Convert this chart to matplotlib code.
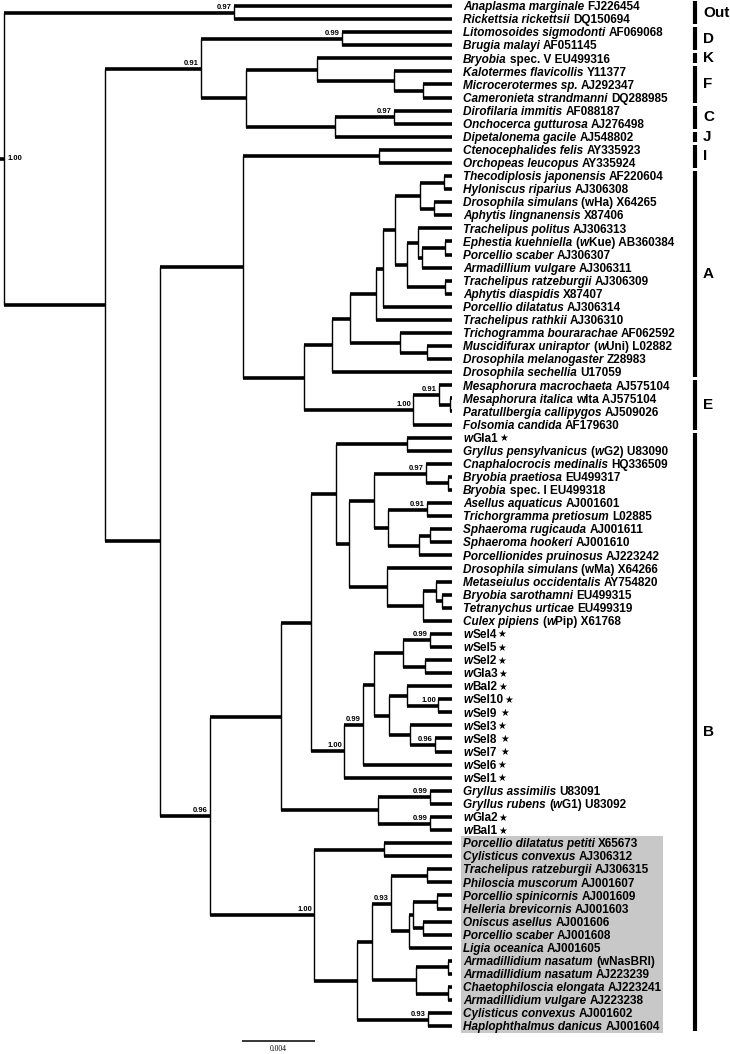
import re
import matplotlib.pyplot as plt
from matplotlib.patches import Rectangle
from matplotlib.transforms import offset_copy

# leaf labels, top to bottom (*...* = italic, ★ = new sequence)
labels = [
    "*Anaplasma marginale* FJ226454",
    "*Rickettsia rickettsii* DQ150694",
    "*Litomosoides sigmodonti* AF069068",
    "*Brugia malayi* AF051145",
    "*Bryobia* spec. V EU499316",
    "*Kalotermes flavicollis* Y11377",
    "*Microcerotermes sp.* AJ292347",
    "*Cameronieta strandmanni* DQ288985",
    "*Dirofilaria immitis* AF088187",
    "*Onchocerca gutturosa* AJ276498",
    "*Dipetalonema gacile* AJ548802",
    "*Ctenocephalides felis* AY335923",
    "*Orchopeas leucopus* AY335924",
    "*Thecodiplosis japonensis* AF220604",
    "*Hyloniscus riparius* AJ306308",
    "*Drosophila simulans* (wHa) X64265",
    "*Aphytis lingnanensis* X87406",
    "*Trachelipus politus* AJ306313",
    "*Ephestia kuehniella* (*w*Kue) AB360384",
    "*Porcellio scaber* AJ306307",
    "*Armadillium vulgare* AJ306311",
    "*Trachelipus ratzeburgii* AJ306309",
    "*Aphytis diaspidis* X87407",
    "*Porcellio dilatatus* AJ306314",
    "*Trachelipus rathkii* AJ306310",
    "*Trichogramma bourarachae* AF062592",
    "*Muscidifurax uniraptor* (*w*Uni) L02882",
    "*Drosophila melanogaster* Z28983",
    "*Drosophila sechellia* U17059",
    "*Mesaphorura macrochaeta* AJ575104",
    "*Mesaphorura italica* wIta AJ575104",
    "*Paratullbergia callipygos* AJ509026",
    "*Folsomia candida* AF179630",
    "*w*Gla1★",
    "*Gryllus pensylvanicus* (*w*G2) U83090",
    "*Cnaphalocrocis medinalis* HQ336509",
    "*Bryobia praetiosa* EU499317",
    "*Bryobia* spec. I EU499318",
    "*Asellus aquaticus* AJ001601",
    "*Trichorgramma pretiosum* L02885",
    "*Sphaeroma rugicauda* AJ001611",
    "*Sphaeroma hookeri* AJ001610",
    "*Porcellionides pruinosus* AJ223242",
    "*Drosophila simulans* (wMa) X64266",
    "*Metaseiulus occidentalis* AY754820",
    "*Bryobia sarothamni* EU499315",
    "*Tetranychus urticae* EU499319",
    "*Culex pipiens* (*w*Pip) X61768",
    "*w*Sel4★", "*w*Sel5★", "*w*Sel2★", "*w*Gla3★", "*w*Bal2★", "*w*Sel10★",
    "*w*Sel9 ★", "*w*Sel3★", "*w*Sel8 ★", "*w*Sel7 ★", "*w*Sel6★", "*w*Sel1★",
    "*Gryllus assimilis* U83091",
    "*Gryllus rubens* (*w*G1) U83092",
    "*w*Gla2★", "*w*Bal1★",
    "*Porcellio dilatatus petiti* X65673",
    "*Cylisticus convexus* AJ306312",
    "*Trachelipus ratzeburgii* AJ306315",
    "*Philoscia muscorum* AJ001607",
    "*Porcellio spinicornis* AJ001609",
    "*Helleria brevicornis* AJ001603",
    "*Oniscus asellus* AJ001606",
    "*Porcellio scaber* AJ001608",
    "*Ligia oceanica* AJ001605",
    "*Armadillidium nasatum* (wNasBRI)",
    "*Armadillidium nasatum* AJ223239",
    "*Chaetophiloscia elongata* AJ223241",
    "*Armadillidium vulgare* AJ223238",
    "*Cylisticus convexus* AJ001602",
    "*Haplophthalmus danicus* AJ001604",
]

# supergroups: name, first leaf, last leaf
groups = [("Out", 0, 1), ("D", 2, 3), ("K", 4, 4), ("F", 5, 7), ("C", 8, 9),
          ("J", 10, 10), ("I", 11, 12), ("A", 13, 28), ("E", 29, 32), ("B", 33, 78)]
shaded = (64, 78)

# internal node = (depth, posterior, children); ints are leaf indices
tree = (0.0, 1.00, [
    (0.01260, 0.97, [0, 1]),
    (0.00553, None, [
        (0.01079, 0.91, [
            (0.01852, 0.99, [2, 3]),
            (0.01326, None, [
                (0.01715, None, [4, (0.02137, None, [5, (0.02296, None, [6, 7])])]),
                (0.01814, None, [(0.02137, 0.97, [8, 9]), 10]),
            ]),
        ]),
        (0.00855, None, [
            (0.01310, None, [
                (0.02055, None, [11, 12]),
                (0.01644, None, [
                    (0.01797, None, [
                        (0.01896, None, [
                            (0.02038, None, [
                                (0.02077, None, [
                                    (0.02142, None, [
                                        (0.02279, None, [(0.02411, None, [13, 14]),
                                                         (0.02356, None, [15, 16])]),
                                        (0.02208, None, [
                                            (0.02268, None, [17, (0.02290, None, [(0.02416, None, [18, 19]), 20])]),
                                            (0.02416, None, [21, 22]),
                                        ]),
                                    ]),
                                    23,
                                ]),
                                24,
                            ]),
                            (0.02170, None, [25, (0.02318, None, [26, 27])]),
                        ]),
                        28,
                    ]),
                    (0.02241, 1.00, [(0.02384, 0.91, [29, (0.02444, None, [30, 31])]), 32]),
                ]),
            ]),
            (0.01129, 0.96, [
                (0.01518, None, [
                    (0.01682, None, [
                        (0.01819, None, [
                            (0.02208, None, [33, 34]),
                            (0.01890, None, [
                                (0.02027, None, [
                                    (0.02312, 0.97, [35, (0.02433, None, [36, 37])]),
                                    (0.02104, None, [
                                        (0.02318, 0.91, [38, 39]),
                                        (0.02274, None, [(0.02334, None, [40, 41]), 42]),
                                    ]),
                                ]),
                                (0.02099, None, [
                                    43,
                                    (0.02296, None, [(0.02367, None, [44, (0.02400, None, [45, 46])]), 47]),
                                ]),
                            ]),
                        ]),
                        (0.01863, 1.00, [
                            (0.01967, 0.99, [
                                (0.02027, None, [
                                    (0.02186, None, [(0.02334, 0.99, [48, 49]), (0.02307, None, [50, 51])]),
                                    (0.02110, None, [
                                        (0.02208, None, [52, (0.02378, 1.00, [53, 54])]),
                                        (0.02225, None, [55, (0.02362, 0.96, [56, 57])]),
                                    ]),
                                ]),
                                58,
                            ]),
                            59,
                        ]),
                    ]),
                    (0.02049, None, [(0.02334, 0.99, [60, 61]), (0.02334, 0.99, [62, 63])]),
                ]),
                (0.01699, 1.00, [
                    (0.02082, None, [64, 65]),
                    (0.01934, None, [
                        (0.02016, None, [
                            (0.02121, 0.93, [
                                (0.02318, None, [66, 67]),
                                (0.02219, None, [(0.02241, None, [(0.02373, None, [68, 69]),
                                                                  (0.02296, None, [70, 71])]), 72]),
                            ]),
                            (0.02258, None, [(0.02433, None, [73, 74]), (0.02433, None, [75, 76])]),
                        ]),
                        (0.02323, 0.93, [77, 78]),
                    ]),
                ]),
            ]),
        ]),
    ]),
])
tip = 0.02455
scale_len = 0.004

PX = scale_len / 73.0          # substitutions per pixel
def X(p):                      # absolute pixel column -> data x
    return (p - 4) * PX

fig = plt.figure(figsize=(7.3, 10.54), dpi=100)
ax = fig.add_axes([0, 0, 1, 1])
ax.set_xlim(X(0), X(730))
ax.set_ylim((1054 - 6) / 13.08, -6 / 13.08)
ax.axis('off')

fam = ['Liberation Sans', 'DejaVu Sans']
HW = 2.6   # horizontal branch width
VW = 1.0   # vertical connector width

def draw(node, root=False):
    if isinstance(node, int):
        return tip, node
    depth, sup, kids = node
    ys = []
    for k in kids:
        kd, ky = draw(k)
        ax.plot([depth, kd], [ky, ky], color='black', lw=HW, solid_capstyle='butt')
        ys.append(ky)
    y = (ys[0] + ys[-1]) / 2
    ax.plot([depth, depth], [ys[0], ys[-1]], color='black', lw=VW, solid_capstyle='butt')
    if sup is not None:
        if root:
            ax.text(depth + 4 * PX, y, '%.2f' % sup, ha='left', va='center',
                    fontsize=5.5, family=fam, weight='bold')
        else:
            ax.text(depth - 2 * PX, y, '%.2f' % sup, ha='right', va='center',
                    fontsize=5.5, family=fam, weight='bold',
                    transform=offset_copy(ax.transData, fig, y=5.5, units='dots'))
    return depth, y

d0, y0 = draw(tree, root=True)
ax.plot([X(0), d0], [y0, y0], color='black', lw=HW, solid_capstyle='butt')

# shaded box behind the isopod labels
ax.add_patch(Rectangle((tip + 9 * PX, shaded[0] - 0.52), 202 * PX, shaded[1] - shaded[0] + 1.04,
                       facecolor='#c8c8c8', edgecolor='none', zorder=0))

# leaf labels with mixed italic / upright pieces
r = fig.canvas.get_renderer()
FS = 8.5
def tw(t):
    return t.get_window_extent(renderer=r).width
a = ax.text(0, 0, 'n n', fontsize=FS, family=fam, weight='bold')
b = ax.text(0, 0, 'nn', fontsize=FS, family=fam, weight='bold')
space = tw(a) - tw(b)
a.remove(); b.remove()

for i, lab in enumerate(labels):
    off = 0.0
    for tok in re.findall(r'\*[^*]*\*|★|[^*★]+', lab):
        if tok == '★':
            off += 1.0
            t = ax.text(tip + 11 * PX, i, tok, fontsize=7, family='DejaVu Sans', va='baseline',
                        transform=offset_copy(ax.transData, fig, x=off, y=-3.6, units='dots'))
            off += tw(t)
            continue
        style = 'normal'
        if tok.startswith('*'):
            tok = tok[1:-1]
            style = 'italic'
        core = tok.strip()
        off += (len(tok) - len(tok.lstrip())) * space
        if core:
            t = ax.text(tip + 11 * PX, i, core, fontsize=FS, family=fam, weight='bold',
                        style=style, va='baseline',
                        transform=offset_copy(ax.transData, fig, x=off, y=-4.2, units='dots'))
            off += tw(t)
        off += (len(tok) - len(tok.rstrip())) * space

# supergroup brackets
for name, a0, a1 in groups:
    ax.plot([X(695), X(695)], [a0 - 0.38, a1 + 0.38], color='black', lw=3.0, solid_capstyle='butt')
    ax.text(X(703), (a0 + a1) / 2, name, ha='left', va='center', fontsize=11,
            family=fam, weight='bold')

# scale bar
ys = (1041 - 6) / 13.08
ax.plot([X(242), X(242) + scale_len], [ys, ys], color='black', lw=1.1, solid_capstyle='butt')
ax.text(X(242) + scale_len / 2, ys + 0.6, '%.3f' % scale_len, ha='center', va='center',
        fontsize=5.5, family='Liberation Serif')

fig.savefig('out.png', dpi=100)
